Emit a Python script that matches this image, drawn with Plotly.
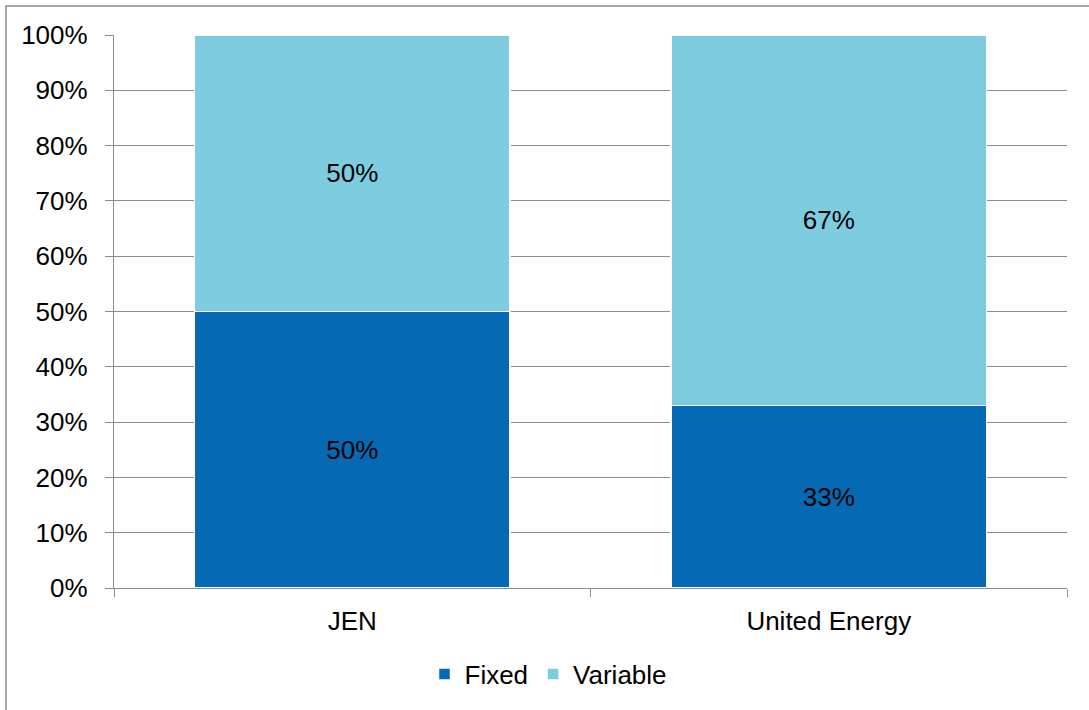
import plotly.graph_objects as go

categories = ["JEN", "United Energy"]
fixed = [0.50, 0.33]
variable = [0.50, 0.67]
series_names = ["Fixed", "Variable"]
tick_vals = [i / 10 for i in range(11)]
tick_text = [f"{i * 10}%" for i in range(11)]

W, H = 1089, 710
L, R, T, B = 114, 22, 35, 122
pw, ph = W - L - R, H - T - B

FONT = "Liberation Sans, Arial, sans-serif"
GRID = "#8c8c8c"
FS = 26

fig = go.Figure()
for name, vals, col in [(series_names[0], fixed, "#0569B4"), (series_names[1], variable, "#7ECCE0")]:
    fig.add_trace(go.Bar(
        name=name, x=categories, y=vals,
        marker=dict(color=col, line=dict(color="white", width=1.5)),
        text=[f"{v:.0%}" for v in vals], textposition="inside",
        insidetextanchor="middle", textangle=0,
        textfont=dict(color="black", size=FS, family=FONT),
        hoverinfo="skip",
    ))

def px_x(x):
    return (x - L) / pw

def px_y(y):
    return (H - B - y) / ph

fig.update_layout(
    barmode="stack", bargap=0.337,
    width=W, height=H,
    margin=dict(l=L, r=R, t=T, b=B, pad=0),
    paper_bgcolor="white", plot_bgcolor="white",
    font=dict(family=FONT, size=FS, color="black"),
    showlegend=True,
    legend=dict(orientation="h", x=0.5 - 42 / pw, xanchor="center", y=px_y(674), yanchor="middle",
                font=dict(size=FS), traceorder="normal", itemwidth=30),
    uniformtext=dict(minsize=10, mode="show"),
    shapes=[dict(type="rect", xref="paper", yref="paper",
                 x0=px_x(6), x1=px_x(1200), y0=px_y(800), y1=px_y(6),
                 line=dict(color=GRID, width=1.5), fillcolor="rgba(0,0,0,0)", layer="below")],
)
fig.update_yaxes(range=[0, 1], tickvals=tick_vals, ticktext=tick_text,
                 showgrid=True, gridcolor=GRID, gridwidth=1.3,
                 showline=True, linecolor=GRID, linewidth=1.3,
                 ticks="outside", ticklen=8, tickcolor=GRID, tickwidth=1.3,
                 ticklabelstandoff=12,
                 zeroline=False, tickfont=dict(size=FS), fixedrange=True)
fig.update_xaxes(showline=True, linecolor=GRID, linewidth=1.3,
                 ticks="outside", ticklen=8, tickcolor=GRID, tickwidth=1.3,
                 ticklabelstandoff=10,
                 tickson="boundaries", showgrid=False, tickfont=dict(size=FS),
                 fixedrange=True)

fig.write_html("out.html")
